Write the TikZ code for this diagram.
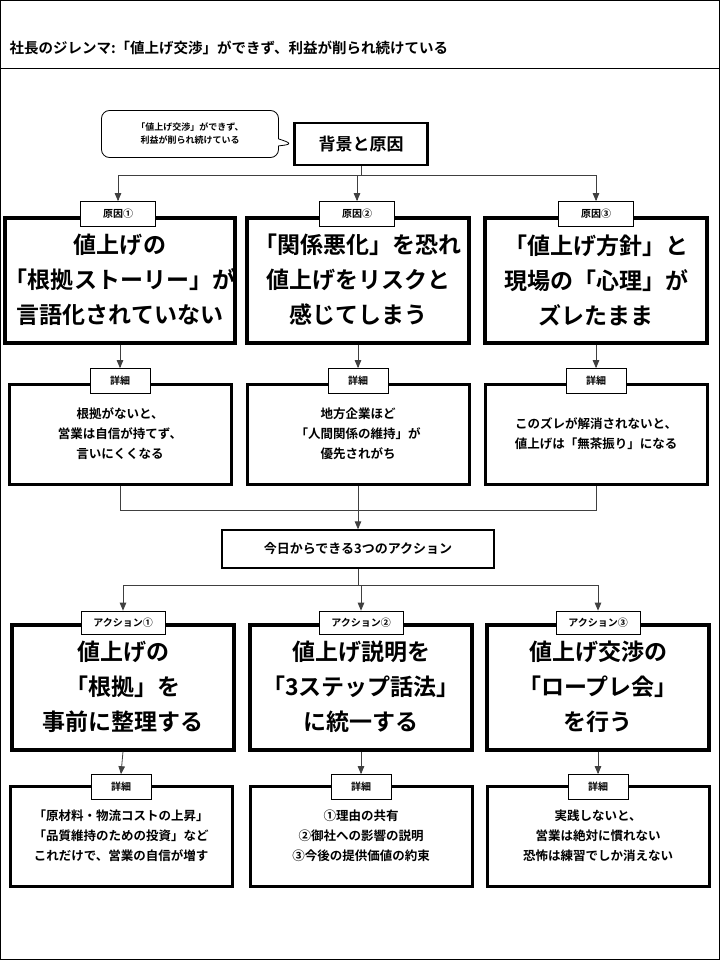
\documentclass[tikz,border=0pt]{standalone}
\usepackage{fontspec}
\setmainfont{Noto Sans CJK JP}[BoldFont={Noto Sans CJK JP Bold}]
\usetikzlibrary{positioning}
\usetikzlibrary{arrows}
\usetikzlibrary{shapes.callouts}

\begin{document}
\begin{tikzpicture}[x=1pt, y=-1pt, >=triangle 45, font=\bfseries,
big/.style={draw, line width=4pt, minimum width=222pt, minimum height=125pt, align=center, font=\bfseries\fontsize{23}{35}\selectfont, inner sep=0pt},
det/.style={draw, line width=3pt, minimum width=222pt, minimum height=100pt, align=center, font=\bfseries\fontsize{12.5}{20}\selectfont, inner sep=0pt},
tag/.style={draw, thick, fill=white, minimum width=#1, minimum height=25pt, font=\bfseries\fontsize{10}{12}\selectfont, inner sep=0pt},
tag/.default=70pt,
head/.style={draw, line width=2.5pt, fill=white, align=center, inner sep=0pt},
link/.style={draw=black!75, thick}]
% frame
\useasboundingbox (0,0) rectangle (720,960);
\draw[thick] (0.5,0.5) rectangle (719.5,959.5);
\draw[thick] (0,68) -- (720,68);
\node[anchor=west, font=\bfseries\fontsize{14.5}{16}\selectfont] (title) at (6,48) {社長のジレンマ:「値上げ交渉」ができず、利益が削られ続けている};

% background
\node[head, minimum width=133pt, minimum height=42pt, font=\bfseries\fontsize{17}{20}\selectfont] (bg) at (361,144) {背景と原因};
\node[rectangle callout, rounded corners=8pt, draw, thick, align=center, minimum width=177pt, minimum height=47pt,
  font=\bfseries\fontsize{9}{13}\selectfont, callout absolute pointer={(bg.west)}] (note) at (190,134) {「値上げ交渉」ができず、\\利益が削られ続けている};

% causes
\node[big] (c1) at (120,280) {値上げの\\「根拠ストーリー」が\\言語化されていない};
\node[big] (c2) at (358,280) {「関係悪化」を恐れ\\値上げをリスクと\\感じてしまう};
\node[big] (c3) at (596,280) {「値上げ方針」と\\現場の「心理」が\\ズレたまま};
\node[tag=75pt] (ct1) at (118,214) {原因①};
\node[tag=75pt] (ct2) at (357,214) {原因②};
\node[tag=75pt] (ct3) at (596,214) {原因③};

\coordinate (bj) at (361,175);
\draw[link] (bg.south) -- (bj);
\draw[link,->] (bj) -| (ct1.north);
\draw[link,->] (bj) -| (ct2.north);
\draw[link,->] (bj) -| (ct3.north);

% cause details
\node[det] (d1) at (120,434) {根拠がないと、\\営業は自信が持てず、\\言いにくくなる};
\node[det] (d2) at (358,434) {地方企業ほど\\「人間関係の維持」が\\優先されがち};
\node[det] (d3) at (596,434) {このズレが解消されないと、\\値上げは「無茶振り」になる};
\foreach \i in {1,2,3} {
  \node[tag=60pt] (dt\i) at (c\i.south |- 0,381) {詳細};
  \draw[link,->] (c\i.south) -- (dt\i.north);
}

% actions head
\node[head, line width=1.5pt, minimum width=272pt, minimum height=38pt, font=\bfseries\fontsize{13}{15}\selectfont] (act) at (358,549) {今日からできる3つのアクション};
\coordinate (aj) at (358,510);
\draw[link] (d1.south) |- (aj);
\draw[link] (d3.south) |- (aj);
\draw[link] (d2.south) -- (aj);
\draw[link,->] (aj) -- (act.north);

% actions
\node[big] (a1) at (123,687) {値上げの\\「根拠」を\\事前に整理する};
\node[big] (a2) at (361,687) {値上げ説明を\\「3ステップ話法」\\に統一する};
\node[big] (a3) at (598,687) {値上げ交渉の\\「ロープレ会」\\を行う};
\node[tag=84pt, minimum height=23pt] (at1) at (a1.north) {アクション①};
\node[tag=84pt, minimum height=23pt] (at2) at (a2.north) {アクション②};
\node[tag=84pt, minimum height=23pt] (at3) at (a3.north) {アクション③};
\coordinate (ak) at (358,585);
\draw[link] (act.south) -- (ak);
\draw[link,->] (ak) -| (at1.north);
\draw[link,->] (ak) -| (at2.north);
\draw[link,->] (ak) -| (at3.north);

% action details
\node[det] (e1) at (121,836) {「原材料・物流コストの上昇」\\「品質維持のための投資」など\\これだけで、営業の自信が増す};
\node[det] (e2) at (361,836) {①理由の共有\\②御社への影響の説明\\③今後の提供価値の約束};
\node[det] (e3) at (598,836) {実践しないと、\\営業は絶対に慣れない\\恐怖は練習でしか消えない};
\foreach \i in {1,2,3} {
  \node[tag=60pt] (et\i) at (e\i.north |- 0,787) {詳細};
  \draw[link,->] (a\i.south) -- (et\i.north);
}
\end{tikzpicture}
\end{document}
